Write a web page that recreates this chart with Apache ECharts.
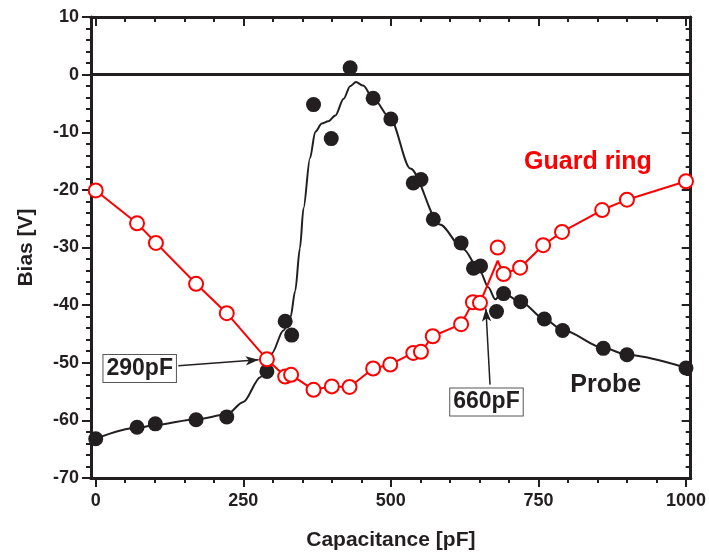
<!DOCTYPE html>
<html>
<head>
<meta charset="utf-8">
<script src="https://cdn.jsdelivr.net/npm/echarts@6/dist/echarts.min.js"></script>
<style>html,body{margin:0;padding:0;background:#fff;}#c{width:709px;height:556px;}</style>
</head>
<body>
<div id="c"></div>
<script>
// ---- data ----
var probeX = [0, 70, 101, 170, 222, 290, 321, 332, 369, 399, 431, 470, 500, 538, 551, 572, 619, 640, 652, 679, 691, 720, 760, 791, 860, 900, 1000];
var probeY = [-63.2, -61.2, -60.6, -59.9, -59.4, -51.5, -42.8, -45.2, -5.2, -11.1, 1.2, -4.1, -7.7, -18.8, -18.2, -25.1, -29.2, -33.6, -33.2, -41.1, -38.0, -39.4, -42.4, -44.4, -47.5, -48.6, -50.9];

var probeFitX = [0, 70, 101, 170, 222, 250, 279, 298, 318, 330, 338, 346, 352, 363, 372, 383, 394, 406, 420, 431, 441, 453, 470, 499, 533, 583, 623, 651, 665, 677, 688, 720, 760, 791, 860, 900, 1000];
var probeFitY = [-63.2, -61.3, -60.8, -59.8, -59.0, -56.8, -52.5, -48.4, -44.4, -42.1, -37.5, -30.1, -23.2, -14.5, -9.9, -8.5, -8.1, -7.1, -4.2, -2.0, -1.3, -1.9, -4.1, -7.6, -16.3, -26.0, -30.3, -34.1, -36.9, -39.0, -37.8, -39.4, -42.4, -44.3, -47.4, -48.6, -50.9];

var guardX = [0, 70, 102, 170, 222, 290, 321, 331, 369, 400, 430, 470, 499, 538, 551, 571, 619, 639, 651, 681, 691, 719, 758, 790, 858, 900, 1000];
var guardY = [-20.1, -25.8, -29.2, -36.3, -41.4, -49.4, -52.4, -52.1, -54.7, -54.1, -54.2, -51.0, -50.3, -48.3, -48.1, -45.4, -43.3, -39.5, -39.6, -30.0, -34.6, -33.5, -29.6, -27.3, -23.5, -21.7, -18.5];
var guardLineY = [-20.1, -25.8, -29.2, -36.3, -41.4, -49.4, -52.4, -52.1, -54.7, -54.1, -54.2, -51.0, -50.3, -48.3, -48.1, -45.4, -43.3, -39.5, -39.6, -32.3, -34.6, -33.5, -29.6, -27.3, -23.5, -21.7, -18.5];

var xMajorTicks = [0, 250, 500, 750, 1000];
var xMinorTicks = [50, 100, 150, 200, 300, 350, 400, 450, 550, 600, 650, 700, 800, 850, 900, 950];

// annotations (data coordinates)
var crossLabels = ['290pF', '660pF'];
var crossLabelPos = [[74.5, -51.0], [662, -56.8]];
var arrowFrom = [[140, -50.5], [668, -53.8]];
var arrowTo = [[276, -49.5], [661, -40.6]];
var seriesLabels = ['Guard ring', 'Probe'];
var seriesLabelPos = [[834, -15.1], [864, -53.8]];

function zip(a, b) { return a.map(function (v, i) { return [v, b[i]]; }); }

var INK = '#231f20';
var RED = '#ff0000';
var FONT = '"Liberation Sans", Arial, sans-serif';

function xAx(pos, ticks, len, inside, labels, name) {
  return {
    type: 'value', position: pos, min: -8, max: 1008,
    axisLine: { show: true, onZero: false, lineStyle: { color: INK, width: 3 } },
    axisTick: { show: true, customValues: ticks, length: len, inside: inside, lineStyle: { color: INK, width: 2 } },
    axisLabel: labels ? { show: true, customValues: ticks, formatter: function (v) { return String(v); }, margin: 14, color: INK, fontSize: 18, fontWeight: 'bold', fontFamily: FONT } : { show: false },
    splitLine: { show: false },
    name: name || '', nameLocation: 'middle', nameGap: 52,
    nameTextStyle: { color: INK, fontSize: 21, fontWeight: 'bold', fontFamily: FONT }
  };
}
function yAx(pos, inside, labels, name) {
  return {
    type: 'value', position: pos, min: -70, max: 10, interval: 10,
    axisLine: { show: true, onZero: false, lineStyle: { color: INK, width: 3 } },
    axisTick: { show: true, length: 9, inside: inside, lineStyle: { color: INK, width: 2 } },
    minorTick: { show: true, splitNumber: 5, length: 5, lineStyle: { color: INK, width: 2 } },
    axisLabel: labels ? { show: true, margin: 12, color: INK, fontSize: 18, fontWeight: 'bold', fontFamily: FONT } : { show: false },
    splitLine: { show: false }, minorSplitLine: { show: false },
    name: name || '', nameLocation: 'middle', nameGap: 54, nameRotate: 90,
    nameTextStyle: { color: INK, fontSize: 21, fontWeight: 'bold', fontFamily: FONT }
  };
}

var chart = echarts.init(document.getElementById('c'), null, { renderer: 'canvas' });

var boxLabels = crossLabels.map(function (t, i) {
  return {
    coord: crossLabelPos[i], symbol: 'rect', symbolSize: 1, itemStyle: { color: 'rgba(0,0,0,0)' },
    label: { show: true, position: 'inside', formatter: t, color: INK, fontSize: 23, fontWeight: 'bold', fontFamily: FONT,
      backgroundColor: '#fff', borderColor: '#555', borderWidth: 1, padding: [3, 3, 1, 3] }
  };
});
var textLabels = seriesLabels.map(function (t, i) {
  return {
    coord: seriesLabelPos[i], symbol: 'rect', symbolSize: 1, itemStyle: { color: 'rgba(0,0,0,0)' },
    label: { show: true, position: 'inside', formatter: t, color: i === 0 ? RED : INK, fontSize: 25, fontWeight: 'bold', fontFamily: FONT }
  };
});

chart.setOption({
  animation: false,
  backgroundColor: '#fff',
  grid: { left: 91, right: 18, top: 17, bottom: 76, containLabel: false },
  xAxis: [
    xAx('bottom', xMajorTicks, 9, false, true, 'Capacitance [pF]'),
    xAx('bottom', xMinorTicks, 5, false, false),
    xAx('top', xMajorTicks, 9, true, false),
    xAx('top', xMinorTicks, 5, true, false)
  ],
  yAxis: [
    yAx('left', false, true, 'Bias [V]'),
    yAx('right', true, false)
  ],
  series: [
    {
      type: 'line', name: 'zero', data: [], silent: true,
      markLine: { silent: true, symbol: ['none', 'none'], label: { show: false },
        lineStyle: { color: INK, width: 3, type: 'solid' }, data: [{ yAxis: 0 }] }
    },
    {
      type: 'line', name: 'probe fit', data: zip(probeFitX, probeFitY), showSymbol: false, symbol: 'none',
      smooth: 0.3, smoothMonotone: 'x', lineStyle: { color: INK, width: 2 }, silent: true, z: 2
    },
    {
      type: 'scatter', name: 'Probe', data: zip(probeX, probeY), symbol: 'circle', symbolSize: 15,
      itemStyle: { color: INK, opacity: 1 }, silent: true, z: 3
    },
    {
      type: 'line', name: 'guard line', data: zip(guardX, guardLineY), showSymbol: false, symbol: 'none',
      lineStyle: { color: RED, width: 2 }, silent: true, z: 4
    },
    {
      type: 'scatter', name: 'Guard ring', data: zip(guardX, guardY), symbol: 'circle', symbolSize: 14,
      itemStyle: { color: '#fff', borderColor: RED, borderWidth: 2, opacity: 1 }, silent: true, z: 5,
      markPoint: { silent: true, data: textLabels }
    },
    {
      type: 'line', name: 'annot', data: [], silent: true, z: 6,
      markLine: { silent: true, symbol: ['none', 'arrow'], symbolSize: [7, 13], label: { show: false },
        lineStyle: { color: INK, width: 1.5, type: 'solid' },
        data: arrowFrom.map(function (f, i) { return [{ coord: f }, { coord: arrowTo[i] }]; }) },
      markPoint: { silent: true, data: boxLabels }
    }
  ]
});
</script>
</body>
</html>
